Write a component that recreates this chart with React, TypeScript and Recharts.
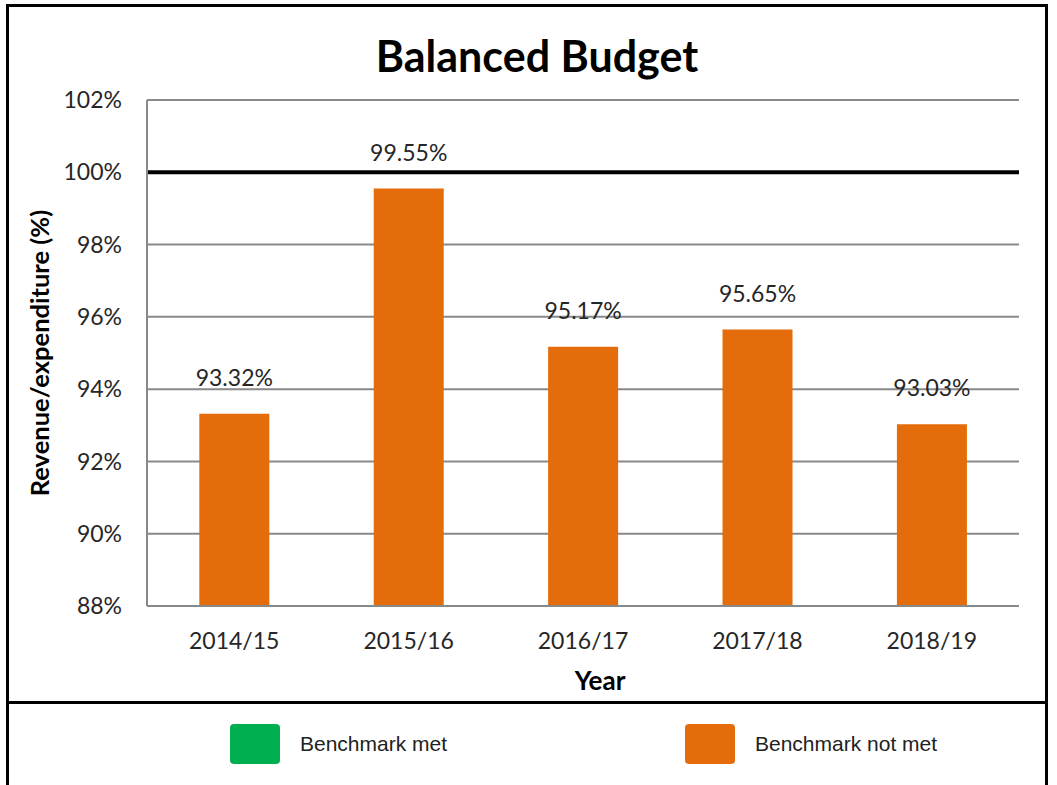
import { BarChart, Bar, XAxis, YAxis, CartesianGrid, ReferenceLine, LabelList, Cell } from "recharts";

const years = ["2014/15", "2015/16", "2016/17", "2017/18", "2018/19"];
const ratios = [93.32, 99.55, 95.17, 95.65, 93.03];
const yTicks = [88, 90, 92, 94, 96, 98, 100, 102];
const benchmark = 100;

const MET = "#00B050";
const NOT_MET = "#E46C0A";
const TEXT = "#262626";
const FONT = "Lato, 'Noto Sans', sans-serif";

const data = years.map((year, i) => ({ year, ratio: ratios[i] }));

const legendItems = [
  { label: "Benchmark met", color: MET, left: 230 },
  { label: "Benchmark not met", color: NOT_MET, left: 685 },
];

export default function App() {
  return (
    <div style={{ position: "absolute", left: 0, top: 0, width: 1057, height: 785, background: "#fff", overflow: "hidden" }}>
      {/* frame */}
      <div style={{ position: "absolute", left: 6, top: 4, width: 1036, height: 800, border: "3px solid #000" }} />
      <div style={{ position: "absolute", left: 6, top: 701, width: 1042, height: 3, background: "#000" }} />

      <div
        style={{
          position: "absolute",
          left: 287,
          top: 30,
          width: 500,
          textAlign: "center",
          fontFamily: FONT,
          fontWeight: 700,
          fontSize: 43,
          color: "#000",
          lineHeight: "52px",
        }}
      >
        Balanced Budget
      </div>

      <div style={{ position: "absolute", left: 0, top: 0 }}>
        <BarChart width={1057} height={700} data={data} margin={{ top: 100, right: 38, left: 20, bottom: 0 }} barCategoryGap="30%">
          <CartesianGrid vertical={false} stroke="#898989" strokeWidth={2} />
          <XAxis
            dataKey="year"
            height={94}
            tickLine={false}
            tickSize={0}
            tickMargin={27}
            axisLine={{ stroke: "#898989", strokeWidth: 2 }}
            tick={{ fill: TEXT, fontFamily: FONT, fontSize: 23 }}
            label={{ value: "Year", position: "insideBottom", offset: 10, dx: 17, fill: "#000", fontFamily: FONT, fontSize: 26, fontWeight: 700 }}
          />
          <YAxis
            width={127}
            domain={[88, 102]}
            ticks={yTicks}
            interval={0}
            tickLine={false}
            tickSize={0}
            tickMargin={25}
            tickFormatter={(v: number) => `${v}%`}
            axisLine={{ stroke: "#898989", strokeWidth: 2 }}
            tick={{ fill: TEXT, fontFamily: FONT, fontSize: 23 }}
            label={{
              value: "Revenue/expenditure (%)",
              angle: -90,
              position: "insideLeft",
              offset: 20,
              fill: "#000",
              fontFamily: FONT,
              fontSize: 25.5,
              fontWeight: 700,
              style: { textAnchor: "middle" },
            }}
          />
          <ReferenceLine y={benchmark} stroke="#000" strokeWidth={4} />
          <Bar dataKey="ratio" isAnimationActive={false}>
            {data.map((d) => (
              <Cell key={d.year} fill={d.ratio >= benchmark ? MET : NOT_MET} />
            ))}
            <LabelList
              dataKey="ratio"
              position="top"
              offset={28}
              formatter={(v: number) => `${v.toFixed(2)}%`}
              fill={TEXT}
              fontFamily={FONT}
              fontSize={23}
            />
          </Bar>
        </BarChart>
      </div>

      {legendItems.map((item) => (
        <div key={item.label} style={{ position: "absolute", left: item.left, top: 724, display: "flex", alignItems: "center" }}>
          <div style={{ width: 50, height: 40, borderRadius: 4, background: item.color }} />
          <span style={{ marginLeft: 20, fontFamily: "'Liberation Sans', Arial, sans-serif", fontSize: 21, color: "#222" }}>
            {item.label}
          </span>
        </div>
      ))}
    </div>
  );
}
